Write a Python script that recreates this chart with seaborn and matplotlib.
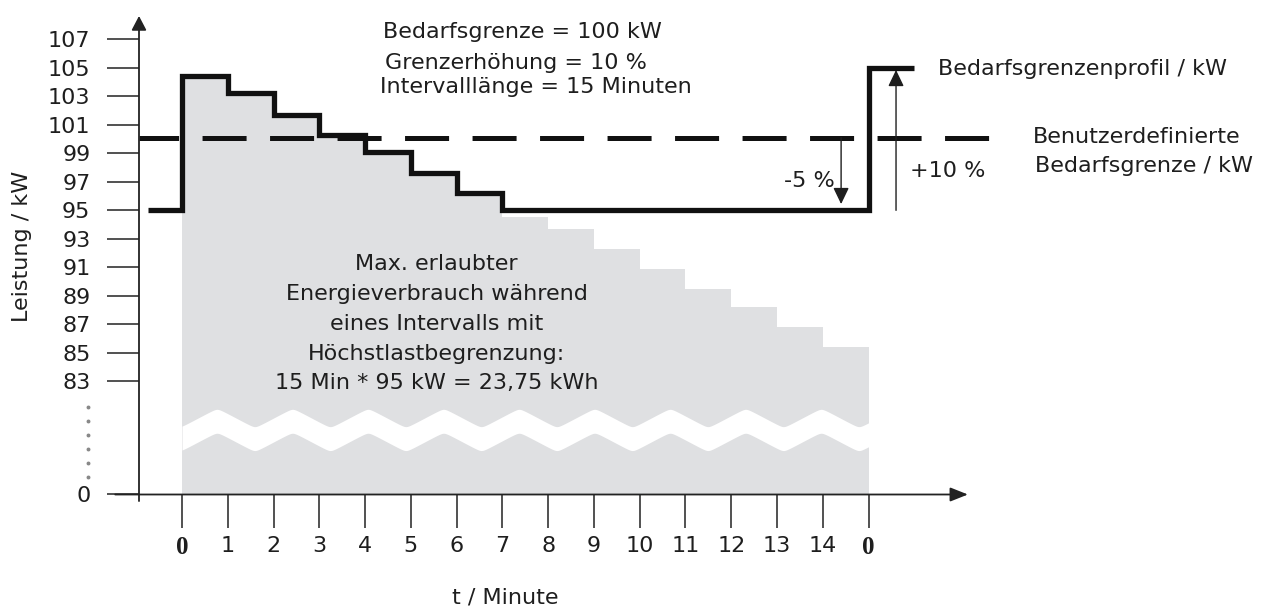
import numpy as np
import seaborn as sns
import matplotlib
matplotlib.use('Agg')
from matplotlib import pyplot as plt

# values
minutes = list(range(16))
minute_labels = ['0'] + [str(i) for i in range(1, 15)] + ['0']
kw_ticks = [83, 85, 87, 89, 91, 93, 95, 97, 99, 101, 103, 105, 107]
profile_t = [-0.74, 0, 1, 2, 3, 4, 5, 6, 7, 15, 16.0]
profile_kw = [95.0, 104.4, 103.2, 101.7, 100.3, 99.1, 97.6, 96.2, 95.0, 105.0, 105.0]
allowed_kw = [104.4, 103.2, 101.7, 100.3, 99.1, 97.6, 96.2, 94.5, 93.7, 92.3, 90.9, 89.5, 88.2, 86.8, 85.4]
user_limit = 100.1
ZERO = 75.06  # where "0" sits on the broken y axis

sns.set_theme(style='ticks')
plt.rcParams['font.family'] = ['DejaVu Sans']
plt.rcParams['lines.scale_dashes'] = False
INK = '#1e1e1e'
GRAY = '#dfe0e2'
FS = 16

fig = plt.figure(figsize=(12.68, 6.08), dpi=100)
ax = fig.add_axes([139 / 1268, (608 - 494.5) / 608, (1268 - 139) / 1268, 494.5 / 608])
X_LEFT = -0.94
ax.set_xlim(X_LEFT, 23.727)
ax.set_ylim(ZERO, 109.76)
for s in ax.spines.values():
    s.set_visible(False)

# allowed energy area
ax.fill_between(minutes, allowed_kw + [allowed_kw[-1]], ZERO, step='post',
                color=GRAY, lw=0, zorder=1)

# axis break (white zigzag through the gray area)
xs = np.linspace(0, 15, 1500)
zig = (2 / np.pi) * np.arcsin(0.97 * np.cos(2 * np.pi * (xs - 0.765) / 1.65))
upper = 80.43 + 0.72 * zig
ax.fill_between(xs, upper - 1.68, upper, color='white', lw=0, zorder=2)

# user defined limit (dashed)
ax.plot([X_LEFT, 17.72], [user_limit, user_limit], color='#111111', lw=3.6,
        ls=(3.2, (31.7, 16.9)), zorder=3, clip_on=False)

# demand limit profile
sns.lineplot(x=profile_t, y=profile_kw, drawstyle='steps-post', color='#111111',
             lw=3.8, estimator=None, sort=False, ax=ax, zorder=4,
             solid_joinstyle='miter', solid_capstyle='butt')

# axes with arrow heads
ax.annotate('', xy=(X_LEFT, 108.64), xytext=(X_LEFT, 74.6), annotation_clip=False,
            arrowprops=dict(arrowstyle='-|>,head_length=0.86,head_width=0.45',
                            color='#222222', lw=1.3, shrinkA=0, shrinkB=0, mutation_scale=10))
ax.annotate('', xy=(17.17, ZERO), xytext=(-1.46, ZERO), annotation_clip=False,
            arrowprops=dict(arrowstyle='-|>,head_length=1.08,head_width=0.43',
                            color='#222222', lw=1.3, shrinkA=0, shrinkB=0, mutation_scale=10))

# -5 % / +10 % arrows
arrow_kw = dict(arrowstyle='-|>,head_length=1.0,head_width=0.48', color=INK,
                lw=1.0, shrinkA=0, shrinkB=0, mutation_scale=10)
ax.annotate('', xy=(14.4, 95.44), xytext=(14.4, user_limit), arrowprops=arrow_kw, zorder=5)
ax.annotate('', xy=(15.6, 104.85), xytext=(15.6, 95.0), arrowprops=arrow_kw, zorder=5)

# ticks
ax.set_xticks(minutes, minute_labels)
ax.set_yticks(kw_ticks + [ZERO], [str(v) for v in kw_ticks] + ['0'])
ax.tick_params(axis='y', left=True, direction='out', length=23, width=1.2,
               color='#333333', pad=12, labelsize=FS, labelcolor=INK)
ax.tick_params(axis='x', bottom=True, direction='out', length=24, width=1.2,
               color='#333333', pad=6, labelsize=FS, labelcolor=INK)
for lab in [ax.get_xticklabels()[0], ax.get_xticklabels()[-1]]:
    lab.set_fontfamily('Liberation Serif')
    lab.set_fontweight('bold')
    lab.set_fontsize(FS + 2)

# dots of the broken y axis
ax.plot([-2.05] * 6, np.linspace(76.3, 81.2, 6), ls='none', marker='o', ms=1.8,
        color='#888888', clip_on=False)

ax.set_xlabel('t / Minute', fontsize=FS, color=INK)
ax.xaxis.set_label_coords((505 - 139) / 1129, -0.189)
ax.set_ylabel('Leistung / kW', fontsize=FS, color=INK)
ax.yaxis.set_label_coords(-0.095, 0.5025)

# texts
txt = dict(fontsize=FS, color=INK, va='baseline', clip_on=False)
ax.text(4.39, 107.09, 'Bedarfsgrenze = 100 kW', **txt)
ax.text(4.44, 104.92, 'Grenzerhöhung = 10 %', **txt)
ax.text(4.33, 103.23, 'Intervalllänge = 15 Minuten', **txt)
ax.text(16.52, 104.49, 'Bedarfsgrenzenprofil / kW', **txt)
ax.text(18.59, 99.7, 'Benutzerdefinierte', **txt)
ax.text(18.63, 97.71, 'Bedarfsgrenze / kW', **txt)
ax.text(14.27, 96.66, '-5 %', ha='right', **txt)
ax.text(15.9, 97.34, '+10 %', **txt)

block = ['Max. erlaubter', 'Energieverbrauch während', 'eines Intervalls mit',
         'Höchstlastbegrenzung:', '15 Min * 95 kW = 23,75 kWh']
for line, yb in zip(block, [90.81, 88.71, 86.6, 84.5, 82.46]):
    ax.text(5.56, yb, line, ha='center', zorder=6, **txt)

fig.savefig('out.png', dpi=100)
